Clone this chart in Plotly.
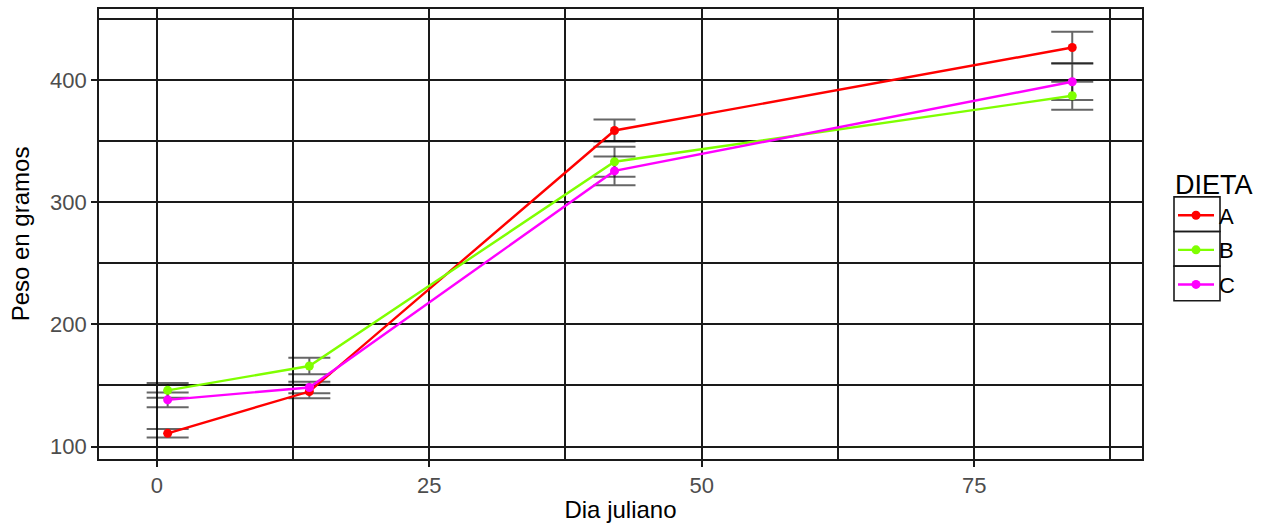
import plotly.graph_objects as go

dias = [1, 14, 42, 84]
dietas = ["A", "B", "C"]
peso = {
    "A": [110.8, 145.0, 358.6, 426.5],
    "B": [146.0, 165.9, 333.0, 387.0],
    "C": [138.2, 148.3, 325.5, 398.5],
}
error = {
    "A": [3.5, 5.5, 9.0, 12.8],
    "B": [6.0, 6.8, 12.2, 11.5],
    "C": [6.0, 4.8, 11.8, 15.0],
}
colores = {"A": "#ff0000", "B": "#7fff00", "C": "#ff00ff"}

x_ticks = [0, 25, 50, 75]
x_minor = [12.5, 37.5, 62.5, 87.5]
y_ticks = [100, 200, 300, 400]
y_minor = [150, 250, 350, 450]

W, H = 1271, 526
M = dict(l=99, r=129, t=7, b=64)
pw = W - M["l"] - M["r"]
ph = H - M["t"] - M["b"]

fig = go.Figure()

# error bars first so lines/points sit on top
for d in dietas:
    fig.add_trace(
        go.Scatter(
            x=dias,
            y=peso[d],
            mode="markers",
            marker=dict(size=1, color="rgba(0,0,0,0)"),
            error_y=dict(
                type="data",
                array=error[d],
                color="rgba(0,0,0,0.6)",
                thickness=2,
                width=21,
            ),
            showlegend=False,
            hoverinfo="skip",
        )
    )

for d in dietas:
    fig.add_trace(
        go.Scatter(
            x=dias,
            y=peso[d],
            name=d,
            legendgroup=d,
            mode="lines+markers",
            line=dict(color=colores[d], width=2.4),
            marker=dict(color=colores[d], size=9),
        )
    )

grid = dict(showgrid=True, gridcolor="#1a1a1a", gridwidth=1.6)
axis_common = dict(
    ticks="outside",
    ticklen=6,
    tickwidth=1.6,
    tickcolor="#1a1a1a",
    tickfont=dict(size=22, color="#4d4d4d"),
    zeroline=False,
    showline=True,
    mirror=True,
    linecolor="#1a1a1a",
    linewidth=1.6,
    **grid,
)
fig.update_xaxes(
    range=[-5.3, 90.4],
    tickvals=x_ticks,
    minor=dict(tickvals=x_minor, **grid),
    title=dict(text="Dia juliano", font=dict(size=24, color="black"), standoff=4),
    **axis_common,
)
fig.update_yaxes(
    range=[89.8, 458],
    tickvals=y_ticks,
    minor=dict(tickvals=y_minor, **grid),
    title=dict(text="Peso en gramos", font=dict(size=24, color="black"), standoff=14),
    **axis_common,
)

# legend key boxes (ggplot style)
box_l, box_r = 1174, 1220
box_top, box_h = 197, 35
shapes = []
for i in range(len(dietas)):
    y0 = box_top + i * box_h
    shapes.append(
        dict(
            type="rect",
            xref="paper",
            yref="paper",
            x0=(box_l - M["l"]) / pw,
            x1=(box_r - M["l"]) / pw,
            y0=(H - M["b"] - y0) / ph,
            y1=(H - M["b"] - y0 - box_h) / ph,
            line=dict(color="#1a1a1a", width=1.6),
            fillcolor="rgba(0,0,0,0)",
            layer="above",
        )
    )

fig.update_layout(
    width=W,
    height=H,
    margin=M,
    plot_bgcolor="white",
    paper_bgcolor="white",
    font=dict(family="Liberation Sans, Arial, sans-serif"),
    showlegend=True,
    legend=dict(
        title=dict(text="DIETA", font=dict(size=27, color="black")),
        font=dict(size=22, color="black"),
        x=(1173 - M["l"]) / pw,
        xanchor="left",
        y=(H - M["b"] - 159) / ph,
        yanchor="top",
        tracegroupgap=3,
        itemwidth=36,
        bgcolor="rgba(0,0,0,0)",
    ),
    shapes=shapes,
)

fig.write_html(
    "out.html",
    config={"displayModeBar": False},
    post_script="document.body.style.margin='0';",
)
